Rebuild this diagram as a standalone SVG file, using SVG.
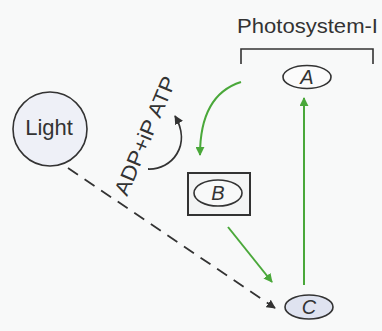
<svg xmlns="http://www.w3.org/2000/svg" width="382" height="331" viewBox="0 0 382 331">
<defs>
<marker id="ak" viewBox="0 0 10 10" refX="9" refY="5" markerWidth="9" markerHeight="9" orient="auto" markerUnits="userSpaceOnUse">
<path d="M0,0 L10,5 L0,10 Z" fill="#333"/>
</marker>
<marker id="agb" viewBox="0 0 10 10" refX="9" refY="5" markerWidth="9" markerHeight="9" orient="auto" markerUnits="userSpaceOnUse">
<path d="M0,0 L10,5 L0,10 Z" fill="#4aa83a"/>
</marker>
</defs>
<style>
.t{font-family:"Liberation Sans",Arial,sans-serif;fill:#333}
.g{fill:none;stroke:#4aa83a;stroke-width:2}
.k{fill:none;stroke:#333;stroke-width:1.8}
.n{stroke:#333;stroke-width:1.6}
</style>
<rect width="382" height="331" fill="#f8f9f9"/>
<g id="connectors">
<path class="g" d="M241,82 Q200,95 200,155" marker-end="url(#agb)"/>
<line class="g" x1="228" y1="227" x2="272" y2="282" marker-end="url(#agb)"/>
<line class="g" x1="304" y1="285" x2="304" y2="98" marker-end="url(#agb)"/>
<line class="k" x1="68" y1="168" x2="275" y2="308" stroke-width="2.5" stroke-dasharray="12 8" marker-end="url(#ak)"/>
<path class="k" d="M148,169 C172,170 192,145 175,116" marker-end="url(#ak)"/>
<text class="t" font-size="21" transform="translate(127,197) rotate(-67)" textLength="127" lengthAdjust="spacingAndGlyphs">ADP+iP ATP</text>
</g>
<g id="photosystem">
<text class="t" x="237" y="33" font-size="21" textLength="141" lengthAdjust="spacingAndGlyphs">Photosystem-I</text>
<path d="M241,64 V49 H373 V64" fill="none" stroke="#333" stroke-width="1.6"/>
</g>
<g id="nodeA">
<ellipse class="n" cx="307" cy="77" rx="24" ry="11.5" fill="#fbfbfb"/>
<text class="t" x="307" y="84" font-size="20" font-style="italic" text-anchor="middle">A</text>
</g>
<g id="light">
<circle class="n" cx="50" cy="129" r="37" fill="#eef0f7"/>
<text class="t" x="49" y="135" font-size="22" text-anchor="middle">Light</text>
</g>
<g id="nodeB">
<rect x="188" y="173" width="62" height="42" fill="#f3f4f4" stroke="#333" stroke-width="2"/>
<ellipse class="n" cx="218" cy="193" rx="24" ry="13" fill="#f8f9f9"/>
<text class="t" x="218" y="200" font-size="20" font-style="italic" text-anchor="middle">B</text>
</g>
<g id="nodeC">
<ellipse class="n" cx="309" cy="307" rx="24" ry="12" fill="#dfe3f0"/>
<text class="t" x="309" y="314" font-size="20" font-style="italic" text-anchor="middle">C</text>
</g>
</svg>
